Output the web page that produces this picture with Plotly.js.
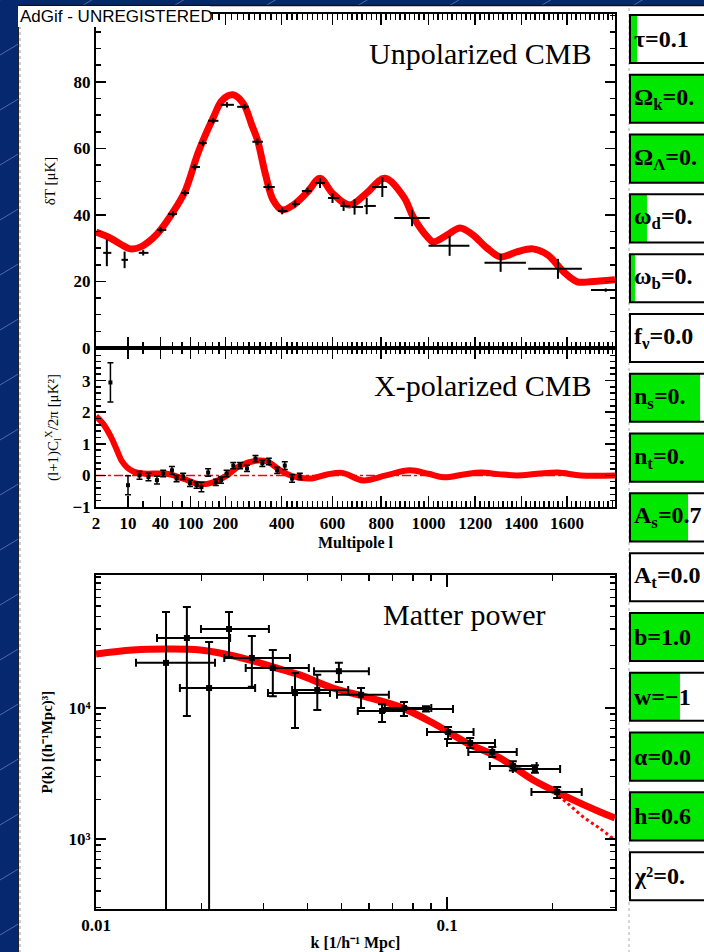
<!DOCTYPE html>
<html><head><meta charset="utf-8">
<script src="https://cdn.plot.ly/plotly-3.0.1.min.js"></script>
<style>html,body{margin:0;padding:0;background:#05286f;overflow:hidden}</style>
</head><body><div id="chart" style="width:704px;height:952px"></div>
<script>
// ---------------- Unpolarized CMB: model curve (multipole l, deltaT in uK)
const cmbL = [2, 4, 7, 11, 18, 30, 40, 60, 86, 120, 162, 190, 225, 260, 290, 310, 340, 368, 402, 445, 500, 550, 600, 670, 740, 815, 895, 935, 995, 1020, 1080, 1135, 1190, 1250, 1310, 1380, 1450, 1515, 1585, 1645, 1700, 1811];
const cmbT = [34.9, 33.2, 31.2, 29.8, 30.4, 33.0, 35.5, 40.6, 47.0, 59.0, 69.2, 74.5, 76.1, 73.5, 67.0, 62.6, 52.0, 44.5, 41.5, 43.0, 46.9, 51.0, 46.5, 43.0, 46.6, 51.0, 45.4, 39.4, 33.4, 31.9, 34.0, 36.1, 34.0, 30.1, 27.4, 28.9, 29.8, 28.0, 22.9, 19.9, 19.9, 20.5];
// Unpolarized CMB: band-power measurements
const tL   = [3.5, 8.5, 20, 40, 61, 86, 110, 132, 162, 205, 265, 310, 350, 402, 452, 500, 550, 600, 645, 690, 740, 805, 930, 1090, 1310, 1560, 1770];
const tLlo = [2.9, 7.3, 16.5, 35, 52, 78, 102, 121, 147, 185, 239, 292, 332, 386, 440, 478, 530, 582, 632, 680, 730, 762, 855, 1000, 1240, 1430, 1705];
const tLhi = [4.4, 10, 25, 49, 69, 96, 124, 143, 178, 228, 279, 330, 374, 422, 470, 517, 570, 628, 672, 725, 778, 825, 1005, 1175, 1420, 1665, 1900];
const tT   = [28.6, 26.5, 28.6, 35.5, 40.3, 46.6, 54.4, 61.6, 68.3, 73.1, 72.5, 62.0, 48.4, 41.2, 43.3, 47.2, 49.6, 45.1, 42.7, 42.4, 42.7, 48.4, 39.1, 30.7, 25.6, 23.8, 17.4];
const tErr = [4.0, 2.5, 0.8, 0.8, 0.8, 0.8, 0.8, 0.8, 0.8, 0.8, 0.8, 1.0, 1.0, 1.0, 1.0, 1.0, 1.5, 1.5, 1.5, 2.3, 2.5, 3.0, 2.5, 3.0, 2.7, 3.0, 0.5];

// ---------------- X-polarized CMB
const xModelL = [2, 2.9, 4.2, 5.9, 7.3, 9.6, 13, 20, 50, 82, 124, 162, 205, 249, 310, 346, 395, 445, 510, 578, 640, 725, 820, 920, 1000, 1065, 1150, 1225, 1300, 1380, 1470, 1560, 1660, 1811];
const xModel  = [1.87, 1.63, 1.25, 0.78, 0.47, 0.25, 0.12, 0.06, 0.05, -0.1, -0.28, -0.22, 0.0, 0.31, 0.47, 0.44, 0.16, -0.03, -0.1, 0.03, 0.08, -0.16, 0.0, 0.16, 0.05, -0.06, 0.03, 0.09, 0.04, 0.0, 0.05, 0.09, 0.0, 0.0];
const xZeroL = [2, 1811];
const xZero  = [0, 0];
const xL   = [4.2, 10, 17, 25, 35, 44, 59, 68, 82, 98, 115, 128, 147, 170, 186, 204, 226, 249, 273, 303, 328, 352, 383, 412, 440, 470];
const xVal = [2.94, -0.31, 0.0, -0.05, -0.15, 0.06, 0.16, -0.1, -0.03, -0.25, -0.31, -0.37, 0.09, -0.22, -0.15, 0.06, 0.31, 0.31, 0.22, 0.53, 0.38, 0.44, 0.16, 0.31, -0.1, -0.03];
const xErr = [0.62, 0.3, 0.12, 0.12, 0.12, 0.1, 0.12, 0.1, 0.1, 0.1, 0.1, 0.15, 0.12, 0.1, 0.1, 0.1, 0.1, 0.1, 0.1, 0.1, 0.1, 0.1, 0.1, 0.12, 0.12, 0.1];

// ---------------- Matter power
const pkModelK = [0.01, 0.0127, 0.0165, 0.0198, 0.0225, 0.0275, 0.0341, 0.0381, 0.0473, 0.0591, 0.0734, 0.0912, 0.114, 0.1416, 0.176, 0.22, 0.273, 0.301];
const pkModelP = [25800, 27700, 28200, 27700, 26300, 23200, 19500, 17900, 14200, 12100, 10200, 7680, 5400, 4150, 2820, 2090, 1610, 1450];
const pkDotK = [0.176, 0.2, 0.22, 0.244, 0.273, 0.301];
const pkDotP = [2820, 2330, 1880, 1480, 1200, 980];
const pkK   = [0.01583, 0.01815, 0.0210, 0.02393, 0.0278, 0.0319, 0.0369, 0.0427, 0.0492, 0.0569, 0.0653, 0.0754, 0.0871, 0.1007, 0.1164, 0.1346, 0.154, 0.178, 0.206];
const pkKlo = [0.0130, 0.01492, 0.01734, 0.01991, 0.0232, 0.0267, 0.0309, 0.0362, 0.0418, 0.0486, 0.0557, 0.0653, 0.0665, 0.0877, 0.100, 0.115, 0.1325, 0.154, 0.174];
const pkKhi = [0.02183, 0.0241, 0.0284, 0.03109, 0.0357, 0.0404, 0.0464, 0.0523, 0.0599, 0.0683, 0.0753, 0.0902, 0.104, 0.119, 0.137, 0.158, 0.18, 0.21, 0.242];
const pkP   = [22100, 34200, 14200, 40100, 24100, 20200, 13000, 13700, 19100, 12600, 9490, 10000, 9830, 6560, 5410, 4620, 3610, 3420, 2290];
const pkPhi = [54100, 59000, 31900, 54100, 35500, 27700, 18500, 17900, 22100, 14200, 10700, 11100, 10300, 7160, 5900, 5040, 3920, 3650, 2490];
const pkPlo = [0, 8700, 0, 24500, 14500, 12300, 7040, 9650, 15800, 10000, 7820, 8690, 9400, 5800, 4950, 4230, 3330, 3200, 2060];

// ---------------- tick labels
const lMajor = [2, 10, 40, 100, 200, 400, 600, 800, 1000, 1200, 1400, 1600];
const tYTicks = [0, 20, 40, 60, 80];
const xYTicks = [-1, 0, 1, 2, 3];
const xYText  = ['\u22121', '0', '1', '2', '3'];
const kTicks = [0.01, 0.1];
const kText  = ['0.01', '0.1'];
const pTicks = [1000, 10000];
const pText  = ['10\u00b3', '10\u2074'];

// ---------------- parameter panel (visible part of each label; fraction of each slider box filled)
const paramLabels = ['\u03c4=0.1', '\u03a9<sub>k</sub>=0.', '\u03a9<sub>\u039b</sub>=0.', '\u03c9<sub>d</sub>=0.', '\u03c9<sub>b</sub>=0.', 'f<sub>\u03bd</sub>=0.0', 'n<sub>s</sub>=0.', 'n<sub>t</sub>=0.', 'A<sub>s</sub>=0.7', 'A<sub>t</sub>=0.0', 'b=1.0', 'w=\u22121', '\u03b1=0.0', 'h=0.6', '\u03c7\u00b2=0.'];
const paramFill = [0.047, 1, 1, 0.113, 0.033, 0, 0.467, 1, 0.387, 0, 1, 0.333, 1, 1, 0];

// ---------------- helpers
const W = 704, H = 952;
const px = x => x / W;
const py = y => 1 - y / H;
// multipole axis: logarithmic at low l, linear at high l
const lScale = l => Math.log(l / 2) + (l - 2) / 87;
const lMinor = [];
for (let l = 20; l <= 1800; l += 20) { if (lMajor.indexOf(l) < 0) lMinor.push(l); }
const kMinor = [];
[0.01, 0.1].forEach(d => { for (let m = 2; m <= 9; m++) { const v = +(d * m).toFixed(3); if (v <= 0.3) kMinor.push(v); } });
const pMinor = [];
[100, 1000, 10000].forEach(d => { for (let m = 2; m <= 10; m++) { const v = d * m; if (v >= 300 && v <= 100000 && pTicks.indexOf(v) < 0) pMinor.push(v); } });

const RED = '#ff0000';
const tickFont = {family: 'Liberation Serif', size: 17, color: 'black', weight: 'bold'};
const axBase = {showline: true, linecolor: 'black', linewidth: 2, mirror: 'ticks', ticks: 'inside',
  tickcolor: 'black', tickwidth: 1.5, showgrid: false, zeroline: false, tickfont: tickFont, fixedrange: true};
const titleFont = {family: 'Liberation Serif', size: 15, color: 'black'};

const xDom = [px(96), px(615)];

const lAxis = (extra) => Object.assign({}, axBase, {
  domain: xDom, range: [0, lScale(1811)], tickmode: 'array',
  tickvals: lMajor.map(lScale), ticktext: lMajor.map(String), ticklen: 11,
  minor: {tickmode: 'array', tickvals: lMinor.map(lScale), ticks: 'inside', ticklen: 6, tickwidth: 1.5, tickcolor: 'black'}
}, extra);

const traces = [
  {x: cmbL.map(lScale), y: cmbT, xaxis: 'x', yaxis: 'y', mode: 'lines', line: {color: RED, width: 7, shape: 'spline'}},
  {x: tL.map(lScale), y: tT, xaxis: 'x', yaxis: 'y', mode: 'markers', marker: {size: 2, color: 'black'},
   error_x: {type: 'data', symmetric: false, array: tLhi.map((h, i) => lScale(h) - lScale(tL[i])),
             arrayminus: tLlo.map((lo, i) => lScale(tL[i]) - lScale(lo)), width: 0, thickness: 2, color: 'black'},
   error_y: {type: 'data', array: tErr, width: 0, thickness: 2, color: 'black'}},
  {x: xZeroL.map(lScale), y: xZero, xaxis: 'x2', yaxis: 'y2', mode: 'lines', line: {color: RED, width: 1.5, dash: 'dashdot'}},
  {x: xModelL.map(lScale), y: xModel, xaxis: 'x2', yaxis: 'y2', mode: 'lines', line: {color: RED, width: 6, shape: 'spline'}},
  {x: xL.map(lScale), y: xVal, xaxis: 'x2', yaxis: 'y2', mode: 'markers', marker: {size: 4, color: 'black', symbol: 'square'},
   error_y: {type: 'data', array: xErr, width: 3, thickness: 1.5, color: 'black'}},
  {x: pkModelK, y: pkModelP, xaxis: 'x3', yaxis: 'y3', mode: 'lines', line: {color: RED, width: 7, shape: 'spline'}},
  {x: pkDotK, y: pkDotP, xaxis: 'x3', yaxis: 'y3', mode: 'lines', line: {color: RED, width: 3, dash: 'dot', shape: 'spline'}},
  {x: pkK, y: pkP, xaxis: 'x3', yaxis: 'y3', mode: 'markers', marker: {size: 6, color: 'black', symbol: 'square'},
   error_x: {type: 'data', symmetric: false, array: pkKhi.map((h, i) => h - pkK[i]), arrayminus: pkKlo.map((lo, i) => pkK[i] - lo),
             width: 4, thickness: 2, color: 'black'},
   error_y: {type: 'data', symmetric: false, array: pkPhi.map((h, i) => h - pkP[i]), arrayminus: pkPlo.map((lo, i) => pkP[i] - lo),
             width: 4, thickness: 2, color: 'black'}},
  // parameter slider boxes
  {type: 'bar', orientation: 'h', x: paramLabels.map(() => 1), y: paramLabels.map((_, i) => i), xaxis: 'x4', yaxis: 'y4',
   width: 0.805, marker: {color: 'white', line: {width: 0}}},
  {type: 'bar', orientation: 'h', x: paramFill, y: paramLabels.map((_, i) => i), xaxis: 'x4', yaxis: 'y4',
   width: 0.805, marker: {color: '#00e800', line: {width: 0}}},
  {type: 'bar', orientation: 'h', x: paramLabels.map(() => 1), y: paramLabels.map((_, i) => i), xaxis: 'x4', yaxis: 'y4',
   width: 0.805, marker: {color: 'rgba(0,0,0,0)', line: {width: 2, color: 'black'}}}
];

const shapes = [];
for (let k = -12; k <= 30; k++) {
  const y0 = 55 * k;
  shapes.push({type: 'line', xref: 'paper', yref: 'paper', x0: 0, y0: py(y0), x1: 1, y1: py(y0 - 422),
               line: {color: 'rgba(140,160,215,0.55)', width: 1}, layer: 'below'});
}
shapes.push({type: 'rect', xref: 'paper', yref: 'paper', x0: px(18), x1: 1.02, y0: -0.02, y1: py(5), fillcolor: 'white', line: {width: 0}, layer: 'below'});
shapes.push({type: 'line', xref: 'paper', yref: 'paper', x0: px(18), x1: 1.02, y0: py(5.5), y1: py(5.5), line: {color: '#111', width: 1.5}, layer: 'below'});
shapes.push({type: 'line', xref: 'paper', yref: 'paper', x0: px(18.5), x1: px(18.5), y0: -0.02, y1: py(5), line: {color: '#222', width: 1}, layer: 'below'});
shapes.push({type: 'line', xref: 'paper', yref: 'paper', x0: px(20), x1: px(20), y0: -0.02, y1: py(5), line: {color: '#999', width: 1, dash: '3px,3px'}, layer: 'below'});
shapes.push({type: 'line', xref: 'paper', yref: 'paper', x0: px(629), x1: px(629), y0: -0.02, y1: py(5), line: {color: '#aaa', width: 1, dash: '3px,3px'}, layer: 'below'});
shapes.push({type: 'rect', xref: 'paper', yref: 'paper', x0: px(18), x1: px(210), y0: py(27), y1: py(6), fillcolor: 'white', line: {width: 0}, layer: 'above'});

const titleAnn = (text, xr, yc) => ({xref: 'paper', yref: 'paper', x: px(xr), y: py(yc), xanchor: 'right', yanchor: 'middle',
  text: text, showarrow: false, font: {family: 'Liberation Serif', size: 30, color: 'black'}});

const annotations = [
  {xref: 'paper', yref: 'paper', x: px(18), y: py(16), xanchor: 'left', yanchor: 'middle', text: 'AdGif - UNREGISTERED',
   showarrow: false, font: {family: 'Liberation Sans', size: 17, color: 'black'}},
  titleAnn('Unpolarized CMB', 593, 53),
  titleAnn('X-polarized CMB', 593, 385),
  titleAnn('Matter power', 547, 614)
];
paramLabels.forEach((t, i) => annotations.push({xref: 'x4', yref: 'y4', x: 0, y: i, xshift: 2, xanchor: 'left', yanchor: 'middle',
  text: t, showarrow: false, font: {family: 'Liberation Serif', size: 24, color: 'black', weight: 'bold'}}));

const layout = {
  width: W, height: H, margin: {l: 0, r: 0, t: 0, b: 0}, paper_bgcolor: '#05286f', plot_bgcolor: 'white',
  showlegend: false, barmode: 'overlay', hovermode: false,
  xaxis: lAxis({anchor: 'y', showticklabels: false}),
  yaxis: Object.assign({}, axBase, {domain: [py(348), py(14)], anchor: 'x', range: [0, 100.4], tickmode: 'array', tickvals: tYTicks,
    ticklen: 10, minor: {dtick: 5, tick0: 0, ticks: 'inside', ticklen: 5, tickwidth: 1.5, tickcolor: 'black'},
    title: {text: '\u03b4T [\u03bcK]', font: titleFont, standoff: 14}}),
  xaxis2: lAxis({anchor: 'y2', title: {text: 'Multipole l', font: {family: 'Liberation Serif', size: 16, color: 'black', weight: 'bold'}, standoff: 4}}),
  yaxis2: Object.assign({}, axBase, {domain: [py(507), py(348)], anchor: 'x2', range: [-1, 4.03], tickmode: 'array', tickvals: xYTicks, ticktext: xYText,
    ticklen: 10, minor: {dtick: 0.2, tick0: 0, ticks: 'inside', ticklen: 5, tickwidth: 1.5, tickcolor: 'black'},
    title: {text: '(l+1)C<sub>l</sub><sup>X</sup>/2\u03c0 [\u03bcK\u00b2]', font: titleFont, standoff: 10}}),
  xaxis3: Object.assign({}, axBase, {domain: xDom, anchor: 'y3', type: 'log', range: [-2, -0.5214], tickmode: 'array', tickvals: kTicks, ticktext: kText,
    ticklen: 12, minor: {tickmode: 'array', tickvals: kMinor, ticks: 'inside', ticklen: 6, tickwidth: 1.5, tickcolor: 'black'},
    title: {text: 'k [1/h\u207b\u00b9 Mpc]', font: {family: 'Liberation Serif', size: 16, color: 'black', weight: 'bold'}, standoff: 2}}),
  yaxis3: Object.assign({}, axBase, {domain: [py(909), py(575)], anchor: 'x3', type: 'log', range: [2.466, 5.015], tickmode: 'array', tickvals: pTicks, ticktext: pText,
    ticklen: 10, minor: {tickmode: 'array', tickvals: pMinor, ticks: 'inside', ticklen: 5, tickwidth: 1.5, tickcolor: 'black'},
    title: {text: 'P(k) [(h\u207b\u00b9Mpc)\u00b3]', font: {family: 'Liberation Serif', size: 15, color: 'black', weight: 'bold'}, standoff: 12}}),
  xaxis4: {domain: [px(628), 1], anchor: 'y4', range: [-2 / 150, 76 / 150 - 2 / 150], visible: false, fixedrange: true},
  yaxis4: {domain: [py(906.1), py(9.1)], anchor: 'x4', range: [14.5, -0.5], visible: false, fixedrange: true},
  shapes: shapes,
  annotations: annotations
};

Plotly.newPlot('chart', traces, layout, {displayModeBar: false, staticPlot: true});
</script>
</body></html>
